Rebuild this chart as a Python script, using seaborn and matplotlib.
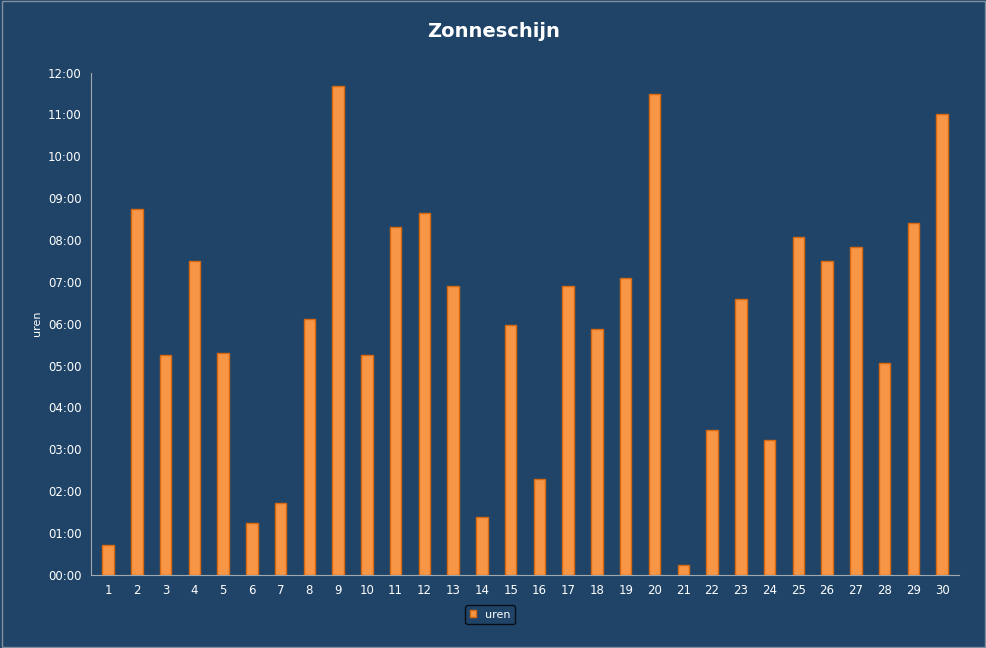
import matplotlib
matplotlib.use("Agg")
import matplotlib.pyplot as plt
import seaborn as sns
import pandas as pd
from matplotlib.ticker import FuncFormatter, MultipleLocator

# Sunshine hours per day
days = [str(d) for d in range(1, 31)]
hours = [0.72, 8.75, 5.24, 7.5, 5.31, 1.24, 1.72, 6.1, 11.67, 5.24,
         8.32, 8.65, 6.91, 1.39, 5.98, 2.3, 6.91, 5.88, 7.08, 11.5,
         0.24, 3.47, 6.6, 3.23, 8.08, 7.5, 7.84, 5.07, 8.41, 11.0]

df = pd.DataFrame({"dag": days, "uren": hours})

bg = "#1F4468"
sns.set_style("dark")
fig = plt.figure(figsize=(9.87, 6.48), dpi=100, facecolor=bg)
ax = fig.add_axes([0.092, 0.113, 0.88, 0.775], facecolor=bg)

sns.barplot(data=df, x="dag", y="uren", color="#F79646", width=0.4,
            edgecolor="#D9680F", linewidth=1, saturation=1, ax=ax, label="uren")

ax.set_ylim(0, 12)
ax.set_xlim(-0.6, 29.6)
ax.yaxis.set_major_locator(MultipleLocator(1))
ax.yaxis.set_major_formatter(FuncFormatter(lambda v, p: f"{int(v):02d}:00"))
ax.tick_params(colors="white", labelsize=8.5, length=3)
ax.set_xlabel("")
ax.set_ylabel("uren", color="white", fontsize=8)
ax.grid(False)
for side in ["top", "right"]:
    ax.spines[side].set_visible(False)
for side in ["left", "bottom"]:
    ax.spines[side].set_color("#A0A8B0")
    ax.spines[side].set_linewidth(0.8)

fig.text(0.5, 0.952, "Zonneschijn", color="white", fontsize=14,
         fontweight="bold", ha="center", va="center")

leg = ax.legend(loc="upper center", bbox_to_anchor=(0.46, -0.05), frameon=True,
                fontsize=8, handlelength=0.6, handleheight=0.6, borderpad=0.4)
leg.get_frame().set_facecolor(bg)
leg.get_frame().set_edgecolor("black")
for t in leg.get_texts():
    t.set_color("white")

fig.patches.append(plt.Rectangle((0.002, 0.002), 0.996, 0.996, transform=fig.transFigure,
                                 fill=False, edgecolor="#8090A0", linewidth=1))
fig.savefig("out.png", dpi=100, facecolor=bg)
